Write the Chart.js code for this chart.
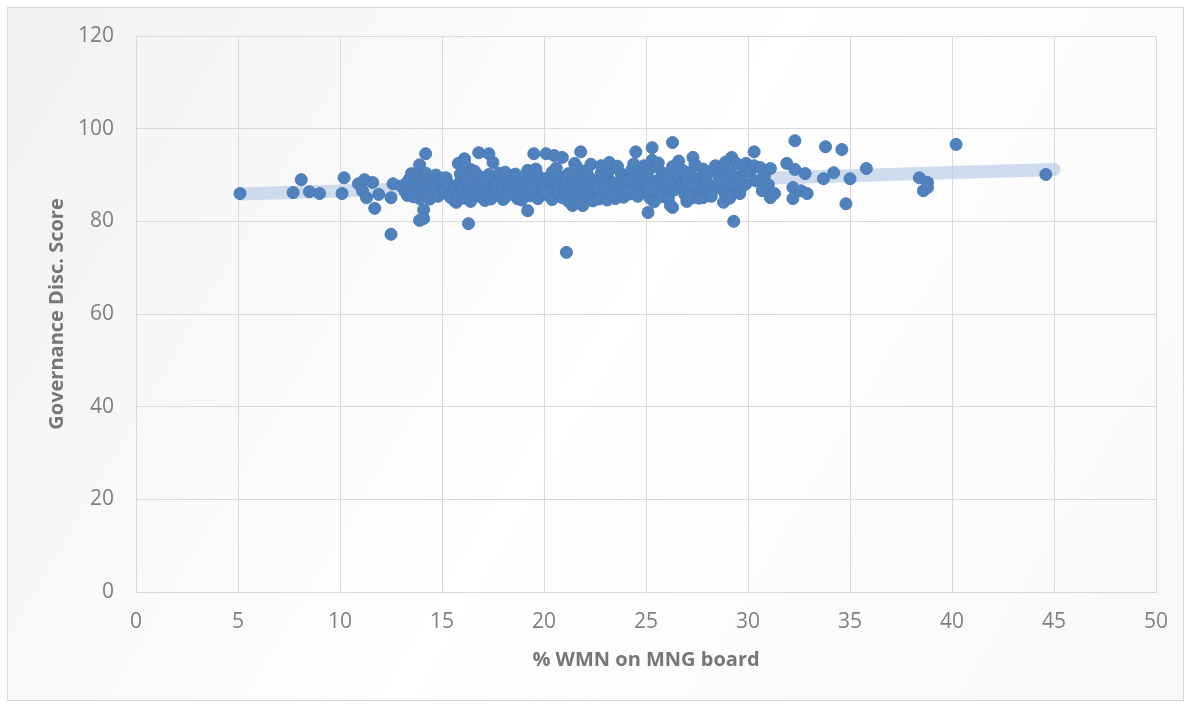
<!DOCTYPE html>
<html>
<head>
<meta charset="utf-8">
<script src="https://cdn.jsdelivr.net/npm/chart.js"></script>
<style>
  html, body { margin: 0; padding: 0; background: #fff; }
</style>
</head>
<body>
<canvas id="scatterChart" width="1191" height="704"></canvas>

<script>
  // % women on management board (x) and governance disclosure score (y)
  const wmnPct = [
    5.1, 7.7, 8.1, 8.5, 9.0, 10.1, 10.2, 10.9, 11.2, 11.6, 11.1, 11.3, 11.7, 11.9, 12.5, 12.6, 12.5,
    13.2, 13.5, 13.9, 14.2, 13.3, 13.9, 14.1, 13.9, 14.1, 14.7, 15.2, 14.7, 15.4, 15.6, 13.8, 14.3,
    16.3, 21.1, 19.2, 25.1, 29.3, 16.1, 16.8, 17.3, 17.5, 15.8, 19.5, 20.1, 20.5, 20.9, 21.8, 21.5, 24.5, 25.3, 26.3,
    27.3, 29.2, 30.3, 29.9, 31.1, 31.9, 32.3, 32.8, 32.3, 33.8, 34.6, 34.2, 33.7, 35.0, 35.8, 34.8,
    31.0, 30.7, 31.3, 31.1, 32.2, 32.2, 32.6, 32.9, 26.3, 27.0, 27.3, 27.8, 28.8, 29.1, 29.6,
    15.7, 17.1, 18.0, 18.7, 21.4, 21.9, 23.5, 26.2, 40.2, 44.6, 38.4, 38.8, 38.6, 38.8,
    13.0, 13.2, 13.4, 13.5, 13.3, 13.6, 13.7, 13.8, 13.9, 13.6,
    14.0, 14.1, 14.3, 14.4, 14.2, 14.4, 14.6, 14.8, 14.9, 14.7,
    15.1, 15.3, 15.4, 15.0, 15.6, 15.8, 15.9, 15.7, 15.9,
    16.0, 16.1, 16.2, 16.3, 16.4, 16.4, 16.1, 16.6, 16.7, 16.8, 16.9, 16.6, 16.9,
    17.0, 17.1, 17.2, 17.4, 17.3, 17.4, 17.6, 17.7, 17.8, 17.9, 17.6, 17.9,
    18.0, 18.1, 18.2, 18.3, 18.4, 18.1, 18.6, 18.7, 18.8, 18.9, 18.6, 18.9,
    19.0, 19.1, 19.2, 19.3, 19.4, 19.2, 19.4, 19.6, 19.7, 19.8, 19.9, 19.6, 19.9, 19.7,
    20.0, 20.1, 20.2, 20.3, 20.4, 20.1, 20.4, 20.6, 20.7, 20.8, 20.9, 20.6, 20.9, 20.7,
    21.0, 21.1, 21.2, 21.3, 21.4, 21.2, 21.4, 21.6, 21.7, 21.8, 21.9, 21.6, 21.9, 21.7,
    22.0, 22.1, 22.2, 22.3, 22.4, 22.1, 22.3, 22.4, 22.6, 22.7, 22.8, 22.9, 22.6, 22.8, 22.9, 22.7,
    23.0, 23.1, 23.2, 23.3, 23.4, 23.1, 23.4, 23.2, 23.6, 23.7, 23.8, 23.9, 23.6, 23.8, 23.9,
    24.0, 24.1, 24.2, 24.3, 24.4, 24.2, 24.4, 24.6, 24.7, 24.8, 24.9, 24.6, 24.8, 24.9,
    25.0, 25.1, 25.2, 25.3, 25.4, 25.1, 25.3, 25.4, 25.6, 25.7, 25.8, 25.9, 25.6, 25.8, 25.9,
    26.0, 26.1, 26.2, 26.3, 26.4, 26.1, 26.4, 26.6, 26.7, 26.8, 26.9, 26.6, 26.8,
    27.0, 27.1, 27.2, 27.3, 27.4, 27.1, 27.6, 27.7, 27.8, 27.9, 27.6, 27.9,
    28.0, 28.1, 28.2, 28.3, 28.4, 28.2, 28.6, 28.7, 28.8, 28.9, 28.6, 28.9,
    29.0, 29.1, 29.2, 29.3, 29.4, 29.1, 29.6, 29.7, 29.8, 29.9, 29.6, 30.1, 30.3, 30.4, 30.6, 30.8
  ];

  const govScore = [
    86.0, 86.2, 89.0, 86.4, 86.0, 86.0, 89.4, 88.1, 89.0, 88.4, 86.6, 85.1, 82.8, 85.8, 85.1, 88.1, 77.2,
    87.7, 90.3, 92.2, 94.6, 85.6, 84.9, 82.5, 80.2, 80.6, 89.4, 89.4, 85.6, 86.6, 84.5, 90.3, 88.1,
    79.5, 73.3, 82.3, 81.9, 80.0, 93.5, 94.8, 94.6, 92.7, 92.5, 94.6, 94.6, 94.2, 93.8, 95.0, 92.5, 95.0, 95.9, 97.0,
    93.8, 93.8, 95.0, 92.5, 91.4, 92.5, 91.2, 90.3, 97.4, 96.1, 95.5, 90.5, 89.2, 89.2, 91.4, 83.8,
    87.9, 86.6, 86.0, 85.1, 87.3, 84.9, 86.6, 86.0, 83.0, 84.3, 85.1, 85.1, 84.1, 85.0, 87.1,
    84.1, 84.5, 84.7, 84.9, 83.4, 83.4, 84.9, 83.4, 96.6, 90.1, 89.4, 88.4, 86.6, 87.3,
    87.6, 86.4, 89.1, 85.9, 88.5, 87.0, 90.1, 86.2, 88.7, 85.3,
    87.8, 89.6, 86.5, 84.8, 90.4, 88.2, 87.1, 85.4, 88.9, 90.0,
    86.8, 88.1, 85.2, 89.3, 87.5, 86.1, 88.6, 84.6, 90.2,
    87.2, 85.0, 89.0, 86.4, 91.2, 84.3, 92.6, 88.0, 86.0, 89.8, 85.3, 90.8, 87.4,
    86.7, 88.5, 85.6, 87.9, 90.1, 84.8, 86.2, 88.9, 90.4, 85.7, 87.6, 89.3,
    87.0, 85.2, 88.4, 86.6, 89.7, 90.6, 87.3, 85.9, 88.8, 86.9, 90.2, 84.6,
    87.8, 86.3, 89.4, 85.5, 88.0, 91.0, 86.9, 87.4, 89.9, 85.8, 88.6, 91.3, 86.5, 84.9,
    87.1, 89.2, 85.6, 88.3, 90.6, 86.4, 84.7, 87.9, 86.0, 89.5, 85.1, 91.5, 88.2, 87.0,
    86.6, 88.8, 90.3, 85.4, 87.5, 84.3, 89.7, 86.9, 88.4, 85.0, 90.0, 91.8, 87.2, 84.0,
    88.1, 86.2, 89.6, 85.3, 87.7, 91.0, 92.3, 84.4, 88.7, 86.5, 90.4, 85.7, 87.3, 92.0, 89.0, 84.8,
    87.6, 89.8, 86.0, 91.4, 88.3, 84.6, 85.6, 92.7, 88.0, 86.7, 90.2, 85.2, 91.9, 87.4, 89.3,
    87.0, 89.0, 85.9, 91.1, 88.5, 86.8, 92.4, 87.8, 89.7, 86.3, 90.8, 85.4, 88.4, 92.0,
    87.3, 89.4, 85.0, 91.6, 88.0, 86.6, 93.2, 84.2, 88.9, 86.1, 90.5, 87.5, 92.6, 85.3, 89.2,
    87.9, 90.0, 86.4, 91.8, 88.6, 84.9, 86.8, 89.5, 87.1, 91.0, 85.8, 93.0, 88.2,
    88.7, 86.7, 90.6, 87.6, 92.3, 85.3, 89.1, 86.3, 91.3, 87.9, 85.0, 90.0,
    88.4, 86.0, 90.8, 87.2, 92.0, 85.4, 89.6, 87.0, 91.5, 85.7, 88.3, 92.8,
    88.9, 86.6, 90.4, 87.8, 92.6, 85.2, 89.3, 87.4, 91.2, 88.1, 86.0, 90.7, 92.0, 88.7, 91.6, 89.9
  ];

  // linear trendline end points
  const trendX = [5.1, 45.0];
  const trendY = [85.9, 91.2];

  const xTicks = [0, 5, 10, 15, 20, 25, 30, 35, 40, 45, 50];
  const yTicks = [0, 20, 40, 60, 80, 100, 120];

  const points = wmnPct.map((x, i) => ({ x: x, y: govScore[i] }));
  const trend = trendX.map((x, i) => ({ x: x, y: trendY[i] }));

  // light grey panel with a thin border behind the whole chart
  const panelBg = {
    id: 'panelBg',
    beforeDraw(chart) {
      const ctx = chart.ctx;
      const w = chart.width, h = chart.height;
      const g = ctx.createLinearGradient(0, 0, w, h);
      g.addColorStop(0, '#f1f1f1');
      g.addColorStop(0.5, '#ffffff');
      g.addColorStop(1, '#f8f8f8');
      ctx.save();
      ctx.fillStyle = '#ffffff';
      ctx.fillRect(0, 0, w, h);
      ctx.fillStyle = g;
      ctx.fillRect(7, 7, w - 14, h - 10);
      ctx.strokeStyle = '#d9d9d9';
      ctx.lineWidth = 1;
      ctx.strokeRect(7.5, 7.5, w - 15, h - 11);
      ctx.restore();
    }
  };

  const tickFont = { family: 'Open Sans', size: 21 };
  const titleFont = { family: 'Open Sans', size: 20, weight: 'bold' };

  new Chart(document.getElementById('scatterChart'), {
    type: 'scatter',
    data: {
      datasets: [
        {
          label: 'Trend',
          data: trend,
          showLine: true,
          borderColor: 'rgba(190, 208, 232, 0.75)',
          borderWidth: 13,
          borderCapStyle: 'round',
          pointRadius: 0,
          order: 2
        },
        {
          label: 'Governance Disc. Score',
          data: points,
          backgroundColor: '#4f81bd',
          borderColor: '#4a7cb9',
          borderWidth: 1,
          pointRadius: 6,
          order: 1
        }
      ]
    },
    options: {
      responsive: false,
      animation: false,
      layout: { padding: { top: 36, right: 35, bottom: 0, left: 0 } },
      plugins: {
        legend: { display: false },
        tooltip: { enabled: false }
      },
      scales: {
        x: {
          type: 'linear',
          min: 0,
          max: 50,
          afterBuildTicks: s => { s.ticks = xTicks.map(v => ({ value: v })); },
          afterFit: s => { s.height = 112; },
          ticks: { color: '#7f7f7f', font: tickFont, padding: 17 },
          grid: { color: '#d9d9d9', drawTicks: false },
          border: { color: '#d9d9d9' },
          title: {
            display: true,
            text: '% WMN on MNG board',
            color: '#767676',
            font: titleFont,
            padding: { top: 32, bottom: 32 }
          }
        },
        y: {
          min: 0,
          max: 120,
          afterBuildTicks: s => { s.ticks = yTicks.map(v => ({ value: v })); },
          afterFit: s => { s.width = 136; },
          ticks: { color: '#7f7f7f', font: tickFont, padding: 22 },
          grid: { color: '#d9d9d9', drawTicks: false },
          border: { color: '#d9d9d9' },
          title: {
            display: true,
            text: 'Governance Disc. Score',
            color: '#767676',
            font: titleFont,
            padding: { top: 45, bottom: 45 }
          }
        }
      }
    },
    plugins: [panelBg]
  });
</script>
</body>
</html>
